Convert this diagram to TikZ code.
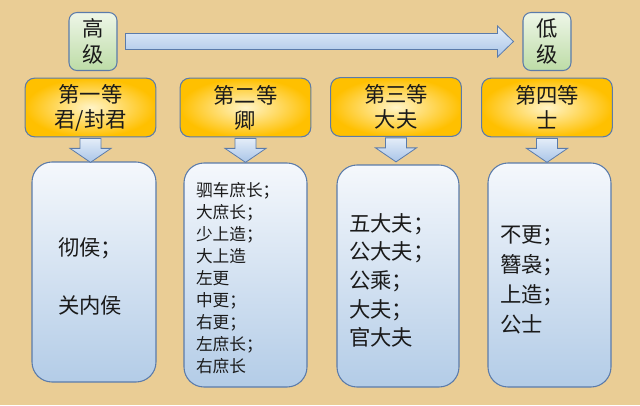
\documentclass[tikz,border=0pt]{standalone}
\usepackage{fontspec}
\setmainfont{Noto Sans CJK SC}
\usetikzlibrary{calc}

\definecolor{parchment}{HTML}{EACD95}
\definecolor{boxline}{HTML}{5B7BAA}
\definecolor{goldedge}{HTML}{FFC000}
\definecolor{goldlight}{HTML}{FFF4C8}
\definecolor{bluetop}{HTML}{F5F8FC}
\definecolor{bluebottom}{HTML}{B3CCE7}
\definecolor{greentop}{HTML}{EEF6E8}
\definecolor{greenbottom}{HTML}{BDDCA6}
\definecolor{arrowtop}{HTML}{E4EDF8}
\definecolor{arrowbottom}{HTML}{A9C5E8}
\definecolor{inktext}{HTML}{1A1A1A}

\tikzset{
  levelbox/.style={draw=boxline, line width=0.8pt, rounded corners=6pt,
    top color=greentop, bottom color=greenbottom, text=inktext,
    minimum width=36pt, minimum height=43.5pt, inner sep=0pt,
    align=center, font=\fontsize{16}{20}\selectfont},
  rankbox/.style={draw=boxline, line width=0.8pt, rounded corners=7pt,
    inner color=goldlight, outer color=goldedge, text=inktext,
    minimum width=98pt, minimum height=44pt, inner sep=0pt,
    align=center, font=\fontsize{16}{18.75}\selectfont},
  itembox/.style={draw=boxline, line width=0.8pt, rounded corners=15pt,
    top color=bluetop, bottom color=bluebottom, text=inktext,
    inner ysep=0pt, align=left},
  blockarrow/.style={draw=boxline, line width=0.6pt,
    top color=arrowtop, bottom color=arrowbottom},
}

\begin{document}
\begin{tikzpicture}[x=0.75pt, y=-0.75pt]
  \fill[parchment] (0,0) rectangle (640,405);
  \useasboundingbox (0,0) rectangle (640,405);

  % level markers
  \node[levelbox] (high) at (93,41.5) {高\\级};
  \node[levelbox] (low) at (547,41.5) {低\\级};

  % ranks
  \node[rankbox] (r1) at (90.5,107.5) {第一等\\君/封君};
  \node[rankbox] (r2) at (245.5,107.5) {第二等\\卿};
  \node[rankbox] (r3) at (396,107) {第三等\\大夫};
  \node[rankbox] (r4) at (547,107.5) {第四等\\士};

  % titles of each rank
  \node[itembox, inner xsep=19.5pt, text width=54pt, minimum height=165pt,
    font=\fontsize{16}{21.75}\selectfont] (i1) at (94,272)
    {\rule{0pt}{20pt}彻侯；\\[21.75pt]关内侯};
  \node[itembox, inner xsep=9pt, text width=74.25pt, minimum height=168pt,
    font=\fontsize{12.5}{16.5}\selectfont] (i2) at (245.5,275)
    {\rule{0pt}{15pt}驷车庶长；\\大庶长；\\少上造；\\大上造\\左更\\中更；\\右更；\\左庶长；\\右庶长};
  \node[itembox, inner xsep=9pt, text width=73.5pt, minimum height=166.5pt,
    font=\fontsize{16}{21.4}\selectfont] (i3) at (398,276)
    {\rule{0pt}{20pt}五大夫；\\公大夫；\\公乘；\\大夫；\\官大夫};
  \node[itembox, inner xsep=9pt, text width=74.25pt, minimum height=168pt,
    font=\fontsize{16}{22.5}\selectfont] (i4) at (549.5,275)
    {\rule{0pt}{20pt}不更；\\簪袅；\\上造；\\公士};

  % high to low
  \path[blockarrow] ($(high.east)+(8,-8)$) -- ($(low.west)+(-25,-8)$)
    -- ($(low.west)+(-25,-15.5)$) -- ($(low.west)+(-9,0)$)
    -- ($(low.west)+(-25,15.5)$) -- ($(low.west)+(-25,8)$)
    -- ($(high.east)+(8,8)$) -- cycle;

  % rank to titles
  \foreach \i in {1,...,4}{
    \path[blockarrow] ($(r\i.south)+(-10.5,1)$) -- ($(r\i.south)+(-10.5,11)$)
      -- ($(r\i.south)+(-20.5,11)$) -- ($(r\i.south)+(0,25)$)
      -- ($(r\i.south)+(20.5,11)$) -- ($(r\i.south)+(10.5,11)$)
      -- ($(r\i.south)+(10.5,1)$) -- cycle;
  }
\end{tikzpicture}
\end{document}
